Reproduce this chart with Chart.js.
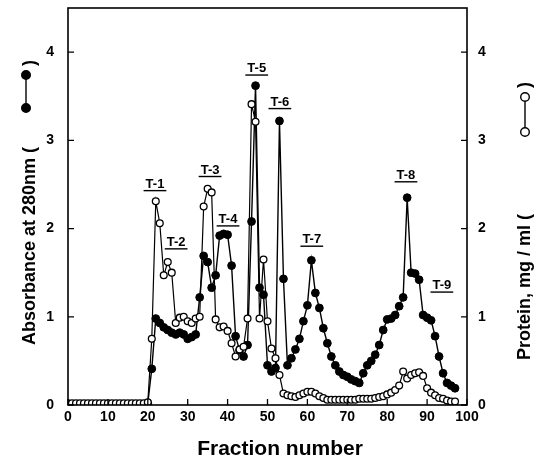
<!DOCTYPE html>
<html>
<head>
<meta charset="utf-8">
<script src="https://cdn.jsdelivr.net/npm/chart.js@4.4.1/dist/chart.umd.min.js"></script>
<style>
  html, body { margin: 0; padding: 0; background: #fff; }
  #wrap { width: 540px; height: 462px; }
</style>
</head>
<body>
<div id="wrap"><canvas id="elutionChart" width="540" height="462"></canvas></div>
<script>
// ========================
//    elution profile data
// ========================

// protein (open circles), fractions 0 - 97
const protFractions = [
  0, 1, 2, 3, 4, 5, 6, 7, 8, 9, 10, 11, 12, 13, 14, 15, 16, 17, 18, 19,
  20, 21, 22, 23, 24, 25, 26, 27, 28, 29, 30, 31, 32, 33, 34, 35, 36, 37, 38, 39,
  40, 41, 42, 43, 44, 45, 46, 47, 48, 49, 50, 51, 52, 53, 54, 55, 56, 57, 58, 59,
  60, 61, 62, 63, 64, 65, 66, 67, 68, 69, 70, 71, 72, 73, 74, 75, 76, 77, 78, 79,
  80, 81, 82, 83, 84, 85, 86, 87, 88, 89, 90, 91, 92, 93, 94, 95, 96, 97
];
const protein = [
  0.02, 0.02, 0.02, 0.02, 0.02, 0.02, 0.02, 0.02, 0.02, 0.02, 0.02, 0.02, 0.02, 0.02, 0.02, 0.02, 0.02, 0.02, 0.02, 0.02,
  0.03, 0.75, 2.31, 2.06, 1.47, 1.62, 1.50, 0.93, 0.99, 1.00, 0.95, 0.93, 0.98, 1.00, 2.25, 2.45, 2.41, 0.97, 0.88, 0.89,
  0.84, 0.70, 0.55, 0.63, 0.66, 0.98, 3.41, 3.21, 0.98, 1.65, 0.95, 0.64, 0.53, 0.34, 0.13, 0.11, 0.10, 0.09, 0.11, 0.13,
  0.15, 0.15, 0.13, 0.10, 0.08, 0.06, 0.06, 0.06, 0.06, 0.06, 0.06, 0.06, 0.06, 0.07, 0.07, 0.07, 0.07, 0.08, 0.09, 0.10,
  0.12, 0.14, 0.17, 0.22, 0.38, 0.30, 0.34, 0.36, 0.37, 0.33, 0.19, 0.14, 0.11, 0.08, 0.07, 0.05, 0.04, 0.04
];

// absorbance at 280nm (filled circles), fractions 20 - 97
const absFractions = [
  20, 21, 22, 23, 24, 25, 26, 27, 28, 29, 30, 31, 32, 33, 34, 35, 36, 37, 38, 39,
  40, 41, 42, 43, 44, 45, 46, 47, 48, 49, 50, 51, 52, 53, 54, 55, 56, 57, 58, 59,
  60, 61, 62, 63, 64, 65, 66, 67, 68, 69, 70, 71, 72, 73, 74, 75, 76, 77, 78, 79,
  80, 81, 82, 83, 84, 85, 86, 87, 88, 89, 90, 91, 92, 93, 94, 95, 96, 97
];
const absorbance = [
  0.02, 0.41, 0.98, 0.93, 0.88, 0.85, 0.82, 0.80, 0.82, 0.80, 0.75, 0.77, 0.80, 1.22, 1.69, 1.62, 1.33, 1.47, 1.92, 1.94,
  1.93, 1.58, 0.78, 0.62, 0.55, 0.68, 2.08, 3.62, 1.33, 1.25, 0.45, 0.38, 0.42, 3.22, 1.43, 0.45, 0.53, 0.63, 0.75, 0.95,
  1.13, 1.64, 1.27, 1.10, 0.87, 0.70, 0.55, 0.45, 0.38, 0.34, 0.32, 0.29, 0.27, 0.25, 0.36, 0.45, 0.50, 0.57, 0.68, 0.85,
  0.97, 0.98, 1.02, 1.12, 1.22, 2.35, 1.50, 1.49, 1.42, 1.02, 0.99, 0.96, 0.78, 0.55, 0.36, 0.25, 0.22, 0.19
];

// axis ticks
const xTicks = [0, 10, 20, 30, 40, 50, 60, 70, 80, 90, 100];
const yTicks = [0, 1, 2, 3, 4];

// pooled peaks: name, fraction (centre) and level of the underline
const peakNames = ["T-1", "T-2", "T-3", "T-4", "T-5", "T-6", "T-7", "T-8", "T-9"];
const peakFraction = [21.8, 27.1, 35.6, 40.1, 47.3, 53.1, 61.1, 84.7, 93.7];
const peakLevel = [2.43, 1.77, 2.59, 2.03, 3.74, 3.36, 1.80, 2.53, 1.28];

// =========================
//   helpers / drawing
// =========================
const FONT = '"Liberation Sans", Arial, Helvetica, sans-serif';
const toPoints = (xs, ys) => xs.map((x, i) => ({ x: x, y: ys[i] }));

// frame, inward ticks, peak labels and the axis titles
const framePlugin = {
  id: 'frame',
  afterDraw(chart) {
    const ctx = chart.ctx;
    const { left, right, top, bottom } = chart.chartArea;
    const sx = chart.scales.x, sy = chart.scales.y, sy2 = chart.scales.y2;

    ctx.save();
    ctx.strokeStyle = '#000';
    ctx.lineWidth = 1.6;
    ctx.strokeRect(left, top, right - left, bottom - top);

    // inward tick marks
    ctx.lineWidth = 1.3;
    ctx.beginPath();
    xTicks.forEach(v => {
      const px = sx.getPixelForValue(v);
      ctx.moveTo(px, bottom); ctx.lineTo(px, bottom - 6);
    });
    yTicks.forEach(v => {
      const py = sy.getPixelForValue(v);
      ctx.moveTo(left, py); ctx.lineTo(left + 6, py);
      const py2 = sy2.getPixelForValue(v);
      ctx.moveTo(right, py2); ctx.lineTo(right - 6, py2);
    });
    ctx.stroke();

    // peak labels with underline
    ctx.fillStyle = '#000';
    ctx.font = 'bold 13px ' + FONT;
    ctx.textAlign = 'center';
    ctx.textBaseline = 'alphabetic';
    peakNames.forEach((name, i) => {
      const px = sx.getPixelForValue(peakFraction[i]);
      const py = sy.getPixelForValue(peakLevel[i]);
      const w = ctx.measureText(name).width;
      ctx.fillText(name, px, py - 3);
      ctx.lineWidth = 1.4;
      ctx.beginPath();
      ctx.moveTo(px - w / 2 - 2, py);
      ctx.lineTo(px + w / 2 + 2, py);
      ctx.stroke();
    });

    // x title
    ctx.font = 'bold 21px ' + FONT;
    ctx.textBaseline = 'middle';
    ctx.fillText('Fraction number', 280, 449);

    // left title + filled symbol
    ctx.font = 'bold 18px ' + FONT;
    ctx.textAlign = 'left';
    ctx.textBaseline = 'alphabetic';
    ctx.save();
    ctx.translate(35, 345);
    ctx.rotate(-Math.PI / 2);
    ctx.fillText('Absorbance at 280nm (', 0, 0);
    ctx.restore();
    drawSymbol(ctx, 26, 108, 75, true);
    ctx.save();
    ctx.translate(35, 66);
    ctx.rotate(-Math.PI / 2);
    ctx.fillText(')', 0, 0);
    ctx.restore();

    // right title + open symbol
    ctx.save();
    ctx.translate(530, 360);
    ctx.rotate(-Math.PI / 2);
    ctx.fillText('Protein, mg / ml (', 0, 0);
    ctx.restore();
    drawSymbol(ctx, 525, 132, 97, false);
    ctx.save();
    ctx.translate(530, 88);
    ctx.rotate(-Math.PI / 2);
    ctx.fillText(')', 0, 0);
    ctx.restore();

    ctx.restore();
  }
};

function drawSymbol(ctx, x, y1, y2, filled) {
  ctx.save();
  ctx.strokeStyle = '#000';
  ctx.lineWidth = 1.4;
  ctx.beginPath();
  ctx.moveTo(x, y1); ctx.lineTo(x, y2);
  ctx.stroke();
  [y1, y2].forEach(y => {
    ctx.beginPath();
    ctx.arc(x, y, 4.3, 0, Math.PI * 2);
    ctx.fillStyle = filled ? '#000' : '#fff';
    ctx.fill();
    ctx.stroke();
  });
  ctx.restore();
}

const tickFont = { family: FONT, weight: 'bold', size: 14 };

// fixed box sizes so the plot area lands where the figure has it
function fixVertical(width) {
  return s => { s.width = width; s.paddingTop = 0; s.paddingBottom = 0; };
}

new Chart(document.getElementById('elutionChart'), {
  type: 'line',
  data: {
    datasets: [
      {
        label: 'Protein, mg / ml',
        data: toPoints(protFractions, protein),
        yAxisID: 'y2',
        borderColor: '#000',
        borderWidth: 1.2,
        pointRadius: 3.4,
        pointBackgroundColor: '#fff',
        pointBorderColor: '#000',
        pointBorderWidth: 1.3,
        tension: 0
      },
      {
        label: 'Absorbance at 280nm',
        data: toPoints(absFractions, absorbance),
        yAxisID: 'y',
        borderColor: '#000',
        borderWidth: 1.4,
        pointRadius: 3.9,
        pointBackgroundColor: '#000',
        pointBorderColor: '#000',
        pointBorderWidth: 1,
        tension: 0
      }
    ]
  },
  options: {
    responsive: false,
    animation: false,
    devicePixelRatio: 1,
    layout: { padding: { top: 8, left: 0, right: 0, bottom: 0 } },
    plugins: { legend: { display: false }, tooltip: { enabled: false } },
    scales: {
      x: {
        type: 'linear', min: 0, max: 100,
        ticks: { stepSize: 10, font: tickFont, color: '#000', padding: 4, maxRotation: 0 },
        grid: { display: false, drawTicks: false },
        border: { display: false },
        afterFit(s) { s.height = 57; s.paddingLeft = 0; s.paddingRight = 0; }
      },
      y: {
        position: 'left', min: 0, max: 4.5,
        ticks: { stepSize: 1, includeBounds: false, font: tickFont, color: '#000', padding: 14 },
        grid: { display: false, drawTicks: false },
        border: { display: false },
        afterFit: fixVertical(68)
      },
      y2: {
        position: 'right', min: 0, max: 4.5,
        ticks: { stepSize: 1, includeBounds: false, font: tickFont, color: '#000', padding: 11 },
        grid: { display: false, drawTicks: false },
        border: { display: false },
        afterFit: fixVertical(73)
      }
    }
  },
  plugins: [framePlugin]
});
</script>
</body>
</html>
